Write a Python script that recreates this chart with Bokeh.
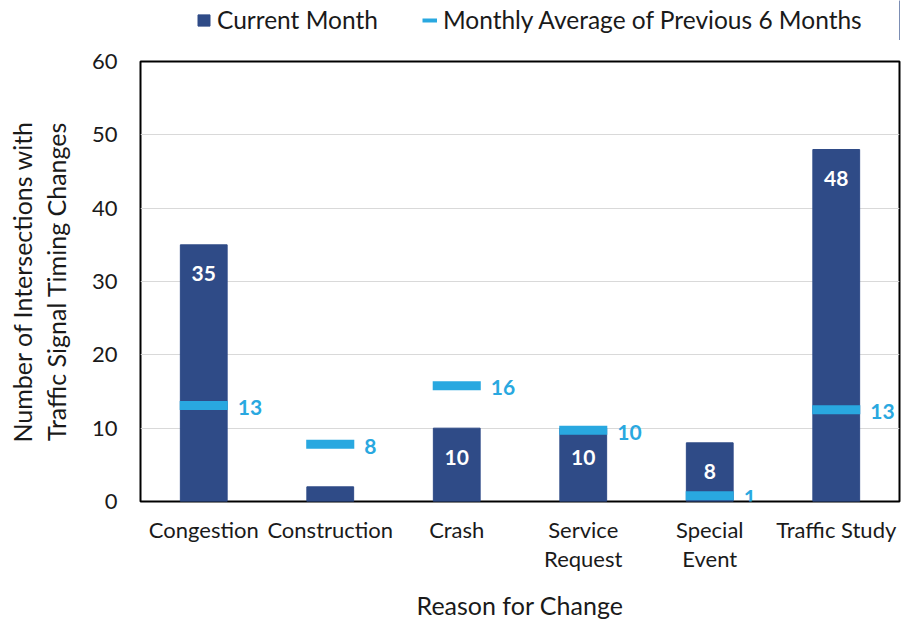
from bokeh.plotting import figure
from bokeh.layouts import column
from bokeh.models import Range1d, FixedTicker, Legend, LegendItem, ColumnDataSource
from bokeh.core.properties import value
from bokeh.embed import file_html
from bokeh.resources import INLINE

categories = ["Congestion", "Construction", "Crash", "Service\nRequest", "Special\nEvent", "Traffic Study"]
current_month = [35, 2, 10, 10, 8, 48]
avg_prev6 = [13.1, 7.8, 15.8, 9.7, 0.8, 12.5]
avg_labels = ["13", "8", "16", "10", "1", "13"]
y_ticks = [0, 10, 20, 30, 40, 50, 60]

FONT = "Lato"
BAR = "#2F4B87"
AVG = "#29A8E0"
TXT = "#1a1a1a"
W = 912
H_LEG = 40
H_MAIN = 626 - H_LEG

# ---- legend strip (its own small figure above the chart) ----
leg_fig = figure(width=W, height=H_LEG, output_backend="svg", toolbar_location=None,
                 x_axis_type=None, y_axis_type=None, x_range=Range1d(0, 1), y_range=Range1d(0, 1),
                 min_border_left=140, min_border_right=13, min_border_top=0, min_border_bottom=0)
leg_fig.outline_line_color = None
leg_fig.xgrid.visible = False
leg_fig.ygrid.visible = False
leg_fig.background_fill_color = "white"
leg_fig.border_fill_color = "white"
# swatch renderers: their single point lies outside the strip's ranges, only the legend icons show
sw_bar = leg_fig.vbar(x=[5], top=[5], width=1, fill_color=BAR, line_color=BAR)
sw_dash = leg_fig.line(x=[5, 6], y=[5, 5], line_color=AVG, line_width=4)
legend = Legend(items=[LegendItem(label="Current Month", renderers=[sw_bar]),
                       LegendItem(label="Monthly Average of Previous 6 Months", renderers=[sw_dash])],
                orientation="horizontal", location=(56, 6))
legend.label_text_font = FONT
legend.label_text_font_size = "24.5px"
legend.label_text_color = TXT
legend.glyph_width = 15
legend.glyph_height = 14
legend.spacing = 44
legend.label_standoff = 6
legend.border_line_color = None
legend.background_fill_alpha = 0
legend.padding = 0
legend.margin = 0
leg_fig.add_layout(legend, "center")

# ---- main chart ----
src = ColumnDataSource(dict(cat=categories, cur=current_month, avg=avg_prev6,
                            cur_lbl=[str(v) for v in current_month], avg_lbl=avg_labels))

p = figure(x_range=categories, y_range=Range1d(0, 60), width=W, height=H_MAIN,
           output_backend="svg", toolbar_location=None,
           min_border_left=140, min_border_right=13, min_border_top=61 - H_LEG, min_border_bottom=125)

p.vbar(x="cat", top="cur", width=0.37, source=src, fill_color=BAR, line_color=BAR)
p.rect(x="cat", y="avg", width=0.38, height=9, height_units="screen", source=src,
       fill_color=AVG, line_color=None)

p.text(x="cat", y="cur", text="cur_lbl", source=src, text_color="white", text_font=value(FONT),
       text_font_style="bold", text_font_size="21px", text_align="center", text_baseline="middle",
       y_offset=29)
p.text(x="cat", y="avg", text="avg_lbl", source=src, text_color=AVG, text_font=value(FONT),
       text_font_style="bold", text_font_size="21px", text_align="left", text_baseline="middle",
       x_offset=34, y_offset=2)

p.yaxis.ticker = FixedTicker(ticks=y_ticks)
p.yaxis.axis_label = "Number of Intersections with\nTraffic Signal Timing Changes"
p.xaxis.axis_label = "Reason for Change"

for ax in (p.xaxis, p.yaxis):
    ax.major_label_text_font = FONT
    ax.major_label_text_font_size = "22px"
    ax.major_label_text_color = TXT
    ax.axis_label_text_font = FONT
    ax.axis_label_text_font_size = "25px"
    ax.axis_label_text_font_style = "normal"
    ax.axis_label_text_color = TXT
    ax.major_tick_line_color = None
    ax.minor_tick_line_color = None
    ax.major_tick_out = 0
    ax.major_tick_in = 0
    ax.axis_line_color = None

p.yaxis.major_label_standoff = 23
p.yaxis.axis_label_standoff = 18
p.yaxis.axis_label_text_line_height = 1.14
p.xaxis.major_label_standoff = 14
p.xaxis.major_label_text_line_height = 1.08
p.xaxis.axis_label_standoff = 15

p.xgrid.grid_line_color = None
p.ygrid.grid_line_color = "#D9D9D9"
p.ygrid.grid_line_width = 1
p.outline_line_color = "black"
p.outline_line_width = 2
p.background_fill_color = "white"
p.border_fill_color = "white"

open("out.html", "w").write(file_html(column(leg_fig, p, spacing=0), INLINE))
